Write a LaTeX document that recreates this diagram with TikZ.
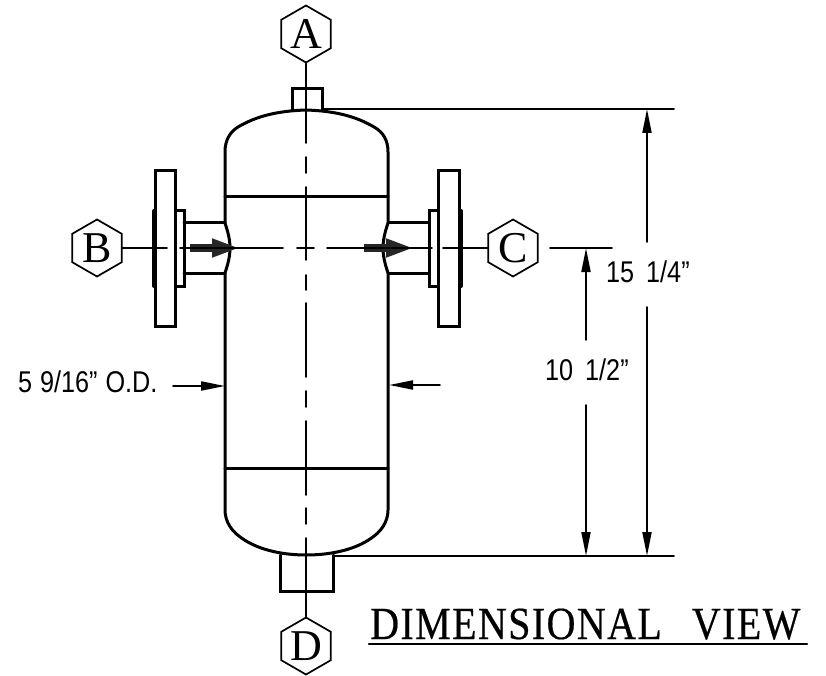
\documentclass[tikz,border=0pt]{standalone}
\usepackage{fontspec}
\usepackage{tikz}
\usetikzlibrary{shapes.geometric,arrows.meta}
\setmainfont{Liberation Serif}
\newfontfamily\dimfont[FakeStretch=0.84]{Liberation Sans}
\newfontfamily\titlefont[FakeStretch=0.87,LetterSpace=3,FakeBold=0.4]{Liberation Serif}

\begin{document}
\begin{tikzpicture}
  [x=1pt,y=-1pt,line cap=round,
   hexa/.style={draw,regular polygon,regular polygon sides=6,shape border rotate=30,
     minimum size=57pt,inner sep=0pt,line width=1.7pt,font=\fontsize{44}{44}\selectfont},
   shell/.style={line width=3pt},
   thin line/.style={line width=1.9pt},
   dimtext/.style={inner sep=0pt,anchor=base west,font=\dimfont\fontsize{30}{30}\selectfont},
   dimarrow/.style={line width=1.9pt,-{Triangle[length=24pt,width=9pt]}},
   flowarrow/.style={line width=7.5pt,line cap=butt,black!85,-{Triangle[length=28pt,width=17pt]}}]
  \useasboundingbox (0,0) rectangle (826,676);

  \node[hexa] (hA) at (306,34)  {A};
  \node[hexa] (hB) at (97,248)  {B};
  \node[hexa] (hC) at (513,248) {C};
  \node[hexa] (hD) at (306,646) {D};

  % vessel
  \draw[shell] (225,223) -- (225,152) .. controls (225,140) and (230,132) .. (238,127)
    .. controls (255,117) and (275,111) .. (306,110)
    .. controls (337,111) and (357,117) .. (374,127)
    .. controls (383,132) and (388,140) .. (388,152) -- (388,223)
    .. controls (385,232) and (383,240) .. (383,248)
    .. controls (383,256) and (385,264) .. (388,273) -- (388,510)
    .. controls (388,522) and (381,532) .. (370,539)
    .. controls (357,548) and (335,555) .. (306,555)
    .. controls (278,555) and (256,548) .. (243,539)
    .. controls (232,532) and (225,522) .. (225,510) -- (225,273)
    .. controls (228,264) and (230,256) .. (230,248)
    .. controls (230,240) and (228,232) .. cycle;
  \draw[shell] (225,197) -- (388,197);
  \draw[shell] (225,468) -- (388,468);
  \draw[shell] (292,110) -- (292,89) -- (322,89) -- (322,110);
  \draw[shell] (280,555) -- (280,591) -- (333,591) -- (333,555);

  % left nozzle
  \draw[shell] (155,171) rectangle (175,326);
  \draw[shell] (175,211) rectangle (184,286);
  \draw[line width=4pt] (154,211) -- (154,286);
  \draw[shell] (184,223) -- (225,223);
  \draw[shell] (184,273) -- (225,273);

  % right nozzle
  \draw[shell] (438,171) rectangle (459,326);
  \draw[shell] (429,211) rectangle (438,286);
  \draw[line width=4pt] (461,211) -- (461,286);
  \draw[shell] (388,223) -- (429,223);
  \draw[shell] (388,273) -- (429,273);

  \draw[flowarrow] (190,248) -- (240,248);
  \draw[flowarrow] (364,248) -- (414,248);

  % center lines
  \coordinate (a1) at (306,143);
  \coordinate (d1) at (306,538);
  \coordinate (b1) at (167,248);
  \coordinate (c1) at (443,248);
  \foreach \from/\to in {hA/a1,hD/d1,hB/b1,hC/c1}
    \draw[thin line] (\from) -- (\to);
  \foreach \from/\to in {157/173,187/260,275/290,303/377,391/407,421/495,508/524}
    \draw[thin line] (306,\from) -- (306,\to);
  \foreach \from/\to in {180/283,297/314,327/432}
    \draw[thin line] (\from,248) -- (\to,248);

  % dimensions
  \coordinate (t0) at (322,109);
  \coordinate (t1) at (674,109);
  \coordinate (u0) at (333,556);
  \coordinate (u1) at (674,556);
  \coordinate (m0) at (550,248);
  \coordinate (m1) at (612,248);
  \foreach \from/\to in {t0/t1,u0/u1,m0/m1}
    \draw[thin line] (\from) -- (\to);
  \node[dimtext] (ltop) at (606,282) {15\hspace{12pt}1/4”};
  \node[dimtext] (lmid) at (545,380) {10\hspace{12pt}1/2”};
  \node[dimtext] (lod) at (18,392) {5\hspace{8pt}9/16”\hspace{8pt}O.D.};
  \draw[dimarrow] (647,242) -- (647,109);
  \draw[dimarrow] (647,307) -- (647,556);
  \draw[dimarrow] (586,340) -- (586,248);
  \draw[dimarrow] (586,405) -- (586,556);
  \draw[dimarrow] (173,386) -- (225,386);
  \draw[dimarrow] (440,385) -- (389,385);

  \node[anchor=base west,inner sep=0pt,font=\titlefont\fontsize{46}{46}\selectfont] (title) at (370,639)
    {DIMENSIONAL\hspace{30pt}VIEW};
  \draw[line width=2.2pt] (369,644) -- (807,644);
\end{tikzpicture}
\end{document}
